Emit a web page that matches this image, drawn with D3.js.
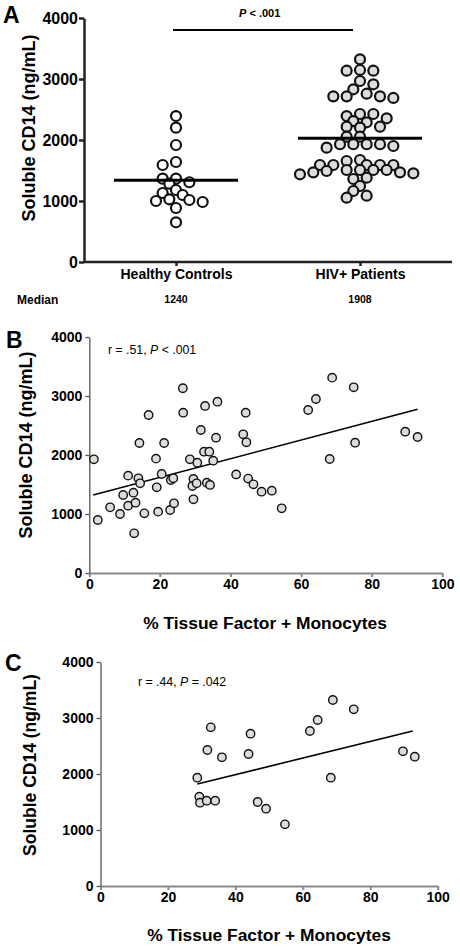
<!DOCTYPE html>
<html><head><meta charset="utf-8">
<script src="https://cdn.jsdelivr.net/npm/d3@7"></script>
<style>body{margin:0;background:#fff}svg{display:block;font-family:"Liberation Sans",Arial,Helvetica,sans-serif}</style>
</head><body><svg id="c" width="460" height="948"></svg>
<script>
// ---------- data ----------
const groups = ["Healthy Controls", "HIV+ Patients"];
const medianLabels = ["1240", "1908"];
const medianLines = [1340, 2030];
const healthy = [2393, 2202, 1918, 1639, 1590, 1366, 1366, 1307, 1284, 1180, 1131, 1098, 1028, 1016, 1000, 984, 885, 651];
const hiv = [3323, 3148, 3136, 3136, 2967, 2913, 2831, 2759, 2716, 2716, 2716, 2689, 2426, 2426, 2393, 2356, 2311, 2290, 2218, 2218, 2202, 2054, 2054, 1930, 1930, 1930, 1930, 1902, 1874, 1672, 1656, 1590, 1590, 1590, 1590, 1590, 1508, 1508, 1508, 1508, 1492, 1470, 1470, 1454, 1438, 1382, 1361, 1246, 1164, 1087, 1054];
const yTicks = [0, 1000, 2000, 3000, 4000];
const xTicks = [0, 20, 40, 60, 80, 100];

const bX = [1.3, 26.5, 32.8, 36.3, 16.8, 26.6, 31.6, 35.9, 14.2, 21.2, 18.9, 28.5, 30.6, 32.5, 34.0, 35.1, 11.0, 13.9, 14.4, 20.5, 23.1, 23.8, 19.1, 29.5, 29.2, 30.4, 33.3, 34.2, 9.6, 12.5, 5.9, 11.0, 13.1, 8.7, 2.4, 15.6, 19.5, 22.9, 24.0, 29.5, 12.7, 68.8, 74.9, 64.2, 62.0, 44.3, 43.6, 44.5, 75.3, 89.5, 93.0, 68.1, 41.6, 45.0, 46.5, 48.8, 51.7, 54.5];
const bY = [1927, 3131, 2831, 2904, 2678, 2717, 2424, 2293, 2203, 2203, 1938, 1927, 1870, 2056, 2056, 1903, 1650, 1605, 1520, 1678, 1576, 1605, 1452, 1593, 1475, 1520, 1531, 1492, 1322, 1361, 1113, 1141, 1192, 1000, 898, 1011, 1040, 1068, 1181, 1249, 672, 3311, 3147, 2949, 2763, 2717, 2351, 2215, 2209, 2395, 2305, 1932, 1670, 1600, 1503, 1378, 1395, 1097];
const fitBX = [1.1, 93.0];
const fitBY = [1322, 2775];

const cX = [32.7, 31.7, 36.0, 28.7, 68.9, 75.1, 64.4, 62.1, 44.5, 43.9, 89.7, 93.2, 68.3, 29.3, 29.5, 31.5, 34.0, 46.6, 49.1, 54.7];
const cY = [2833, 2429, 2298, 1934, 3321, 3155, 2964, 2768, 2720, 2357, 2405, 2309, 1934, 1595, 1488, 1523, 1523, 1500, 1380, 1101];
const fitCX = [28.7, 92.6];
const fitCY = [1821, 2768];

const yTitle = "Soluble CD14 (ng/mL)";
const xTitle = "% Tissue Factor + Monocytes";

// ---------- drawing ----------
const svg = d3.select("#c");
const fmt = d3.format("d");

function swarm(vals, cx, y, minD, step) {
  const placed = [];
  const order = vals.map((v, i) => ({v, i})).sort((a, b) => b.v - a.v);
  order.forEach(o => {
    const py = y(o.v);
    for (let k = 0; k < 60; k++) {
      const cands = k === 0 ? [0] : (placed.length % 2 ? [k * step, -k * step] : [-k * step, k * step]);
      let ok = null;
      for (const off of cands) {
        if (placed.every(p => Math.hypot(p.x - (cx + off), p.y - py) >= minD)) { ok = off; break; }
      }
      if (ok !== null) { placed.push({x: cx + ok, y: py, v: o.v}); break; }
    }
  });
  return placed;
}

function styleAxis(g, stroke, width, fontSize) {
  g.select(".domain").attr("stroke", stroke).attr("stroke-width", width);
  g.selectAll(".tick line").attr("stroke", stroke).attr("stroke-width", width);
  g.selectAll(".tick text").attr("fill", "#000").attr("font-size", fontSize).attr("font-weight", "bold")
    .attr("font-family", '"Liberation Sans", Arial, sans-serif');
}

// ===== Panel A =====
{
  const y = d3.scaleLinear().domain([0, 4000]).range([262, 18]);
  const x = d3.scalePoint().domain(groups).range([84, 452]).padding(0.5);

  const gy = svg.append("g").attr("transform", "translate(84,0)")
    .call(d3.axisLeft(y).tickValues(yTicks).tickFormat(fmt).tickSize(5).tickSizeOuter(0).tickPadding(1));
  styleAxis(gy, "#222", 2.5, 16);
  const gx = svg.append("g").attr("transform", "translate(0,262)")
    .call(d3.axisBottom(x).tickSize(4).tickSizeOuter(0).tickPadding(3));
  styleAxis(gx, "#222", 2.5, 14);
  gx.select(".domain").attr("d", "M84,0H452");

  const sets = [healthy, hiv];
  const fills = ["#fff", "#dcdcdc"];
  sets.forEach((vals, gi) => {
    const pts = swarm(vals, x(groups[gi]), y, 8.3, 6.67);
    svg.append("g").selectAll("circle").data(pts).join("circle")
      .attr("cx", d => d.x).attr("cy", d => d.y).attr("r", 5)
      .attr("fill", fills[gi]).attr("stroke", "#111").attr("stroke-width", 2.2);
  });
  // median lines
  svg.append("g").selectAll("line").data(groups).join("line")
    .attr("x1", d => x(d) - 62).attr("x2", d => x(d) + 62)
    .attr("y1", (d, i) => y(medianLines[i])).attr("y2", (d, i) => y(medianLines[i]))
    .attr("stroke", "#000").attr("stroke-width", 3);
  // significance bar
  svg.append("line").attr("x1", x(groups[0]) - 3).attr("x2", x(groups[1]) - 7)
    .attr("y1", 30).attr("y2", 30).attr("stroke", "#000").attr("stroke-width", 2);
  const pt = svg.append("text").attr("x", 239).attr("y", 16.5).attr("font-size", 11).attr("font-weight", "bold");
  pt.append("tspan").attr("font-style", "italic").text("P");
  pt.append("tspan").text(" < .001");

  // median row
  svg.append("text").attr("x", 17).attr("y", 303.5).attr("font-size", 12).attr("font-weight", "bold").text("Median");
  svg.append("g").selectAll("text").data(medianLabels).join("text")
    .attr("x", (d, i) => x(groups[i])).attr("y", 302.7).attr("text-anchor", "middle")
    .attr("font-size", 10.5).attr("font-weight", "bold").text(d => d);

  // y title
  svg.append("text").attr("transform", "translate(34.5,128) rotate(-90)").attr("text-anchor", "middle")
    .attr("font-size", 18).attr("font-weight", "bold").text(yTitle);
  svg.append("text").attr("x", 3).attr("y", 23).attr("font-size", 23).attr("font-weight", "bold").text("A");
}

// ===== scatter panels =====
function scatter(opt) {
  const x = d3.scaleLinear().domain([0, 100]).range([opt.x0, opt.x1]);
  const y = d3.scaleLinear().domain([0, 4000]).range([opt.y0, opt.y1]);
  const gx = svg.append("g").attr("transform", `translate(0,${opt.y0})`)
    .call(d3.axisBottom(x).tickValues(xTicks).tickFormat(fmt).tickSize(4).tickSizeOuter(0).tickPadding(2));
  styleAxis(gx, "#8a8a8a", 2, 14);
  const gy = svg.append("g").attr("transform", `translate(${opt.x0},0)`)
    .call(d3.axisLeft(y).tickValues(yTicks).tickFormat(fmt).tickSize(4).tickSizeOuter(0).tickPadding(3));
  styleAxis(gy, "#555", 1.3, 14);

  const pts = opt.xs.map((v, i) => ({x: v, y: opt.ys[i]}));
  svg.append("line")
    .attr("x1", x(opt.fx[0])).attr("y1", y(opt.fy[0])).attr("x2", x(opt.fx[1])).attr("y2", y(opt.fy[1]))
    .attr("stroke", "#000").attr("stroke-width", 1.6);
  svg.append("g").selectAll("circle").data(pts).join("circle")
    .attr("cx", d => x(d.x)).attr("cy", d => y(d.y)).attr("r", 4.2)
    .attr("fill", "#dcdcdc").attr("stroke", "#111").attr("stroke-width", 1.4);

  const t = svg.append("text").attr("x", opt.annX).attr("y", opt.annY).attr("font-size", 12.3);
  opt.ann.forEach(s => t.append("tspan").attr("font-style", s.i ? "italic" : null).text(s.t));

  svg.append("text").attr("x", opt.titleX).attr("y", opt.titleY).attr("text-anchor", "middle")
    .attr("font-size", 17.4).attr("font-weight", "bold").text(xTitle);
  svg.append("text").attr("transform", `translate(${opt.ytX},${opt.ytY}) rotate(-90)`).attr("text-anchor", "middle")
    .attr("font-size", opt.ytSize).attr("font-weight", "bold").text(yTitle);
  svg.append("text").attr("x", opt.labX).attr("y", opt.labY).attr("font-size", 23).attr("font-weight", "bold").text(opt.label);
}

scatter({x0: 89.3, x1: 442.3, y0: 573, y1: 337, xs: bX, ys: bY, fx: fitBX, fy: fitBY,
  annX: 108, annY: 354, ann: [{t: "r = .51, "}, {t: "P", i: true}, {t: " < .001"}],
  titleX: 265, titleY: 629, ytX: 31.5, ytY: 445, ytSize: 18, label: "B", labX: 6, labY: 348});

scatter({x0: 100.5, x1: 437.7, y0: 886, y1: 662, xs: cX, ys: cY, fx: fitCX, fy: fitCY,
  annX: 138, annY: 686, ann: [{t: "r = .44, "}, {t: "P", i: true}, {t: " = .042"}],
  titleX: 269, titleY: 941, ytX: 36, ytY: 765, ytSize: 17.5, label: "C", labX: 5, labY: 671});
</script></body></html>
